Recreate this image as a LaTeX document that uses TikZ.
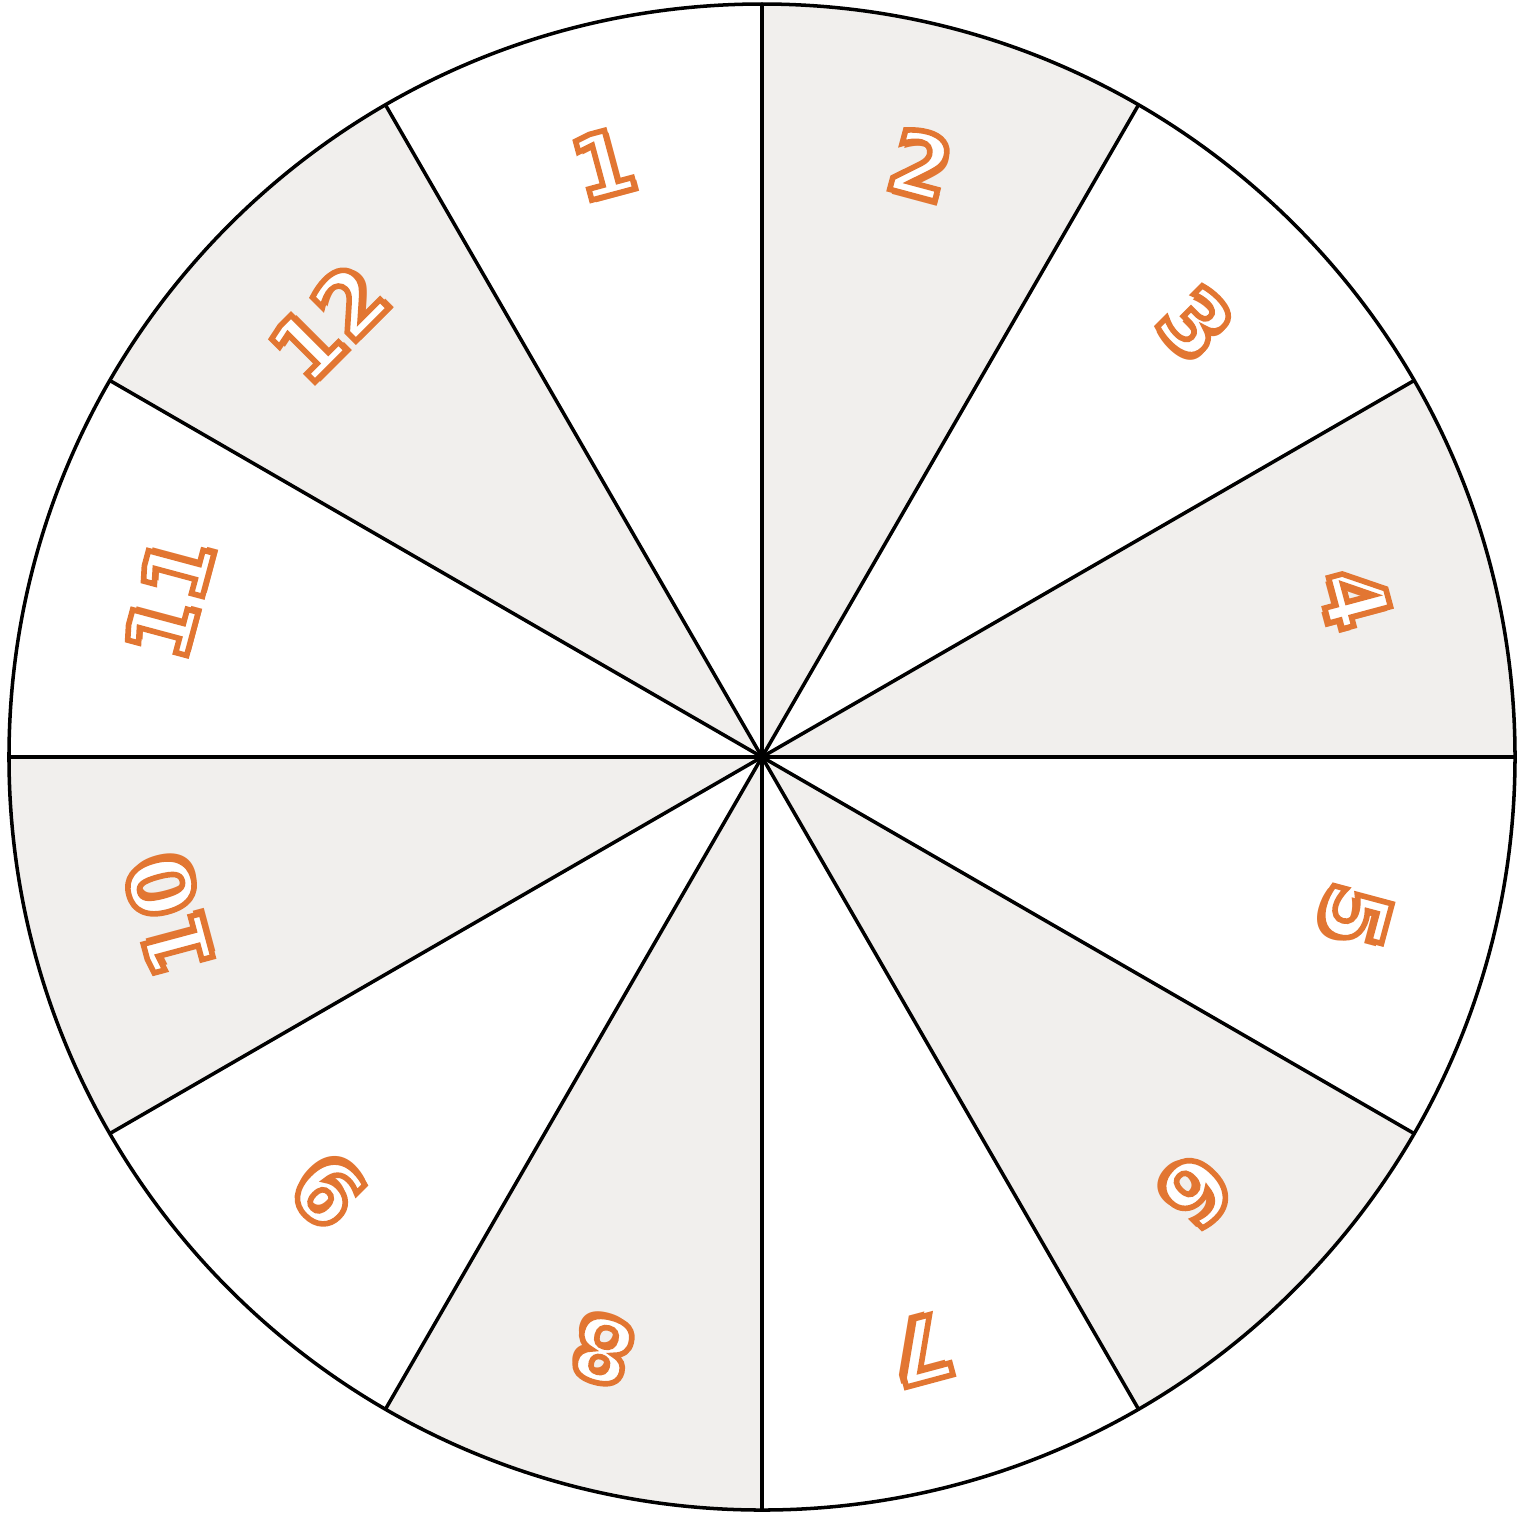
\documentclass[tikz,border=0pt]{standalone}
\usepackage{fontspec}
\newfontfamily\digitfont{DejaVu Sans}
\usetikzlibrary{calc}
\definecolor{wheelgray}{RGB}{241,239,237}
\definecolor{numorange}{RGB}{226,118,50}
% white letters with an orange rim
\newcommand\rimmed[1]{\special{pdf:code 2 Tr 1.6 w 0.886 0.463 0.196 RG}#1\special{pdf:code 0 Tr}}
\tikzset{
  num/.style={font=\digitfont\bfseries\fontsize{25}{25}\selectfont, inner sep=0pt},
  spoke/.style={line width=1pt, black}
}

\begin{document}
\begin{tikzpicture}
\def\R{7.53}
\def\r{6.14}
\useasboundingbox (-7.62,-7.57) rectangle (7.66,7.57);

% shaded sectors
\foreach \i in {2,4,...,12}{
  \pgfmathsetmacro\a{120-30*\i}
  \fill[wheelgray] (0,0) -- (\a:\R) arc(\a:\a+30:\R) -- cycle;
}

% spokes and rim
\foreach \a in {0,30,...,330}
  \draw[spoke] (0,0) -- (\a:\R);
\draw[spoke] (0,0) circle (\R);

% numbers
\foreach \i in {1,...,12}{
  \pgfmathsetmacro\b{135-30*\i}
  \pgfmathsetmacro\t{\b-90}
  \node[num, text=numorange, rotate=\t] (s\i) at ($(\b:\r)+(\t-45:0.055)$) {\i};
  \node[num, text=white, rotate=\t] (n\i) at (\b:\r) {\rimmed{\i}};
}
\end{tikzpicture}
\end{document}
